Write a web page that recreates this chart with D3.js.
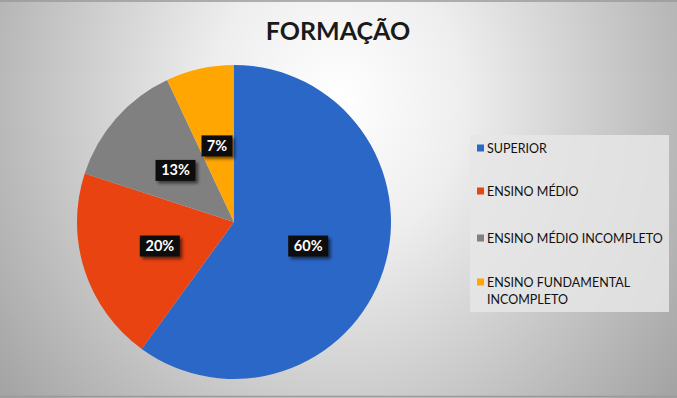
<!DOCTYPE html>
<html><head><meta charset="utf-8">
<script src="https://cdn.jsdelivr.net/npm/d3@7"></script>
<style>html,body{margin:0;padding:0;overflow:hidden;background:#fff}</style>
</head><body>
<svg id="chart" width="677" height="398"></svg>
<script>
const title = "FORMAÇÃO";
const categories = ["SUPERIOR", "ENSINO MÉDIO", "ENSINO MÉDIO INCOMPLETO", "ENSINO FUNDAMENTAL INCOMPLETO"];
const values = [60, 20, 13, 7];
const labels = ["60%", "20%", "13%", "7%"];
const colors = ["#2b67c7", "#e84311", "#808080", "#ffa602"];
const legendLines = [["SUPERIOR"], ["ENSINO MÉDIO"], ["ENSINO MÉDIO INCOMPLETO"], ["ENSINO FUNDAMENTAL", "INCOMPLETO"]];

const W = 677, H = 398;
const svg = d3.select("#chart");
const defs = svg.append("defs");
const grad = defs.append("radialGradient").attr("id", "bg")
  .attr("gradientUnits", "userSpaceOnUse").attr("cx", 338).attr("cy", 100).attr("r", 420)
  .attr("gradientTransform", "translate(338,100) scale(1,1.15) translate(-338,-100)");
[[0, "#ffffff"], [0.3, "#eeeeee"], [1, "#a4a4a4"]].forEach(([o, c]) =>
  grad.append("stop").attr("offset", o).attr("stop-color", c));
const f = defs.append("filter").attr("id", "shadow").attr("x", "-30%").attr("y", "-30%").attr("width", "170%").attr("height", "170%");
f.append("feDropShadow").attr("dx", 2.5).attr("dy", 2.5).attr("stdDeviation", 1.8).attr("flood-color", "#000").attr("flood-opacity", 0.55);

svg.append("rect").attr("width", W).attr("height", H).attr("fill", "url(#bg)");
svg.append("line").attr("x1", 0).attr("x2", W).attr("y1", 1).attr("y2", 1).attr("stroke", "#999").attr("stroke-width", 1.5);
svg.append("line").attr("x1", 0).attr("x2", W).attr("y1", 396.5).attr("y2", 396.5).attr("stroke", "#9a9a9a").attr("stroke-width", 1.5);

svg.append("text").attr("x", 338).attr("y", 40).attr("text-anchor", "middle")
  .attr("font-family", "Lato").attr("font-weight", "bold").attr("font-size", 25).attr("fill", "#1a1a1a")
  .text(title);

const cx = 234, cy = 222, R = 157;
const pie = d3.pie().sort(null).value(d => d);
const arcs = pie(values);
const arc = d3.arc().innerRadius(0).outerRadius(R);
const labelArc = d3.arc().innerRadius(78 * 2).outerRadius(0);
const g = svg.append("g").attr("transform", `translate(${cx},${cy})`);
g.selectAll("path").data(arcs).join("path").attr("d", arc).attr("fill", (d, i) => colors[i]);

const lg = g.selectAll("g.lab").data(arcs).join("g").attr("class", "lab")
  .attr("transform", d => { const c = labelArc.centroid(d); return `translate(${c[0]},${c[1]})`; });
lg.each(function (d, i) {
  const s = d3.select(this);
  const w = labels[i].length > 2 ? 40 : 31;
  s.append("rect").attr("x", -w / 2).attr("y", -10.5).attr("width", w).attr("height", 21)
    .attr("fill", "#111").attr("filter", "url(#shadow)");
  s.append("text").attr("text-anchor", "middle").attr("y", 5).attr("fill", "#fff")
    .attr("font-family", "Lato").attr("font-weight", "bold").attr("font-size", 14.5)
    .text(labels[i]);
});

// legend
const leg = svg.append("g");
leg.append("rect").attr("x", 470).attr("y", 135).attr("width", 199).attr("height", 177)
  .attr("fill", "#e6e6e6").attr("opacity", 0.85);
const itemY = [148, 191, 238, 282];
categories.forEach((c, i) => {
  leg.append("rect").attr("x", 477).attr("y", itemY[i] - 3.5).attr("width", 7).attr("height", 7).attr("fill", colors[i]);
  legendLines[i].forEach((ln, j) => {
    leg.append("text").attr("x", 487).attr("y", itemY[i] + 4.5 + j * 17)
      .attr("font-family", "Lato").attr("font-size", 12.5).attr("fill", "#111").text(ln);
  });
});
</script>
</body></html>
